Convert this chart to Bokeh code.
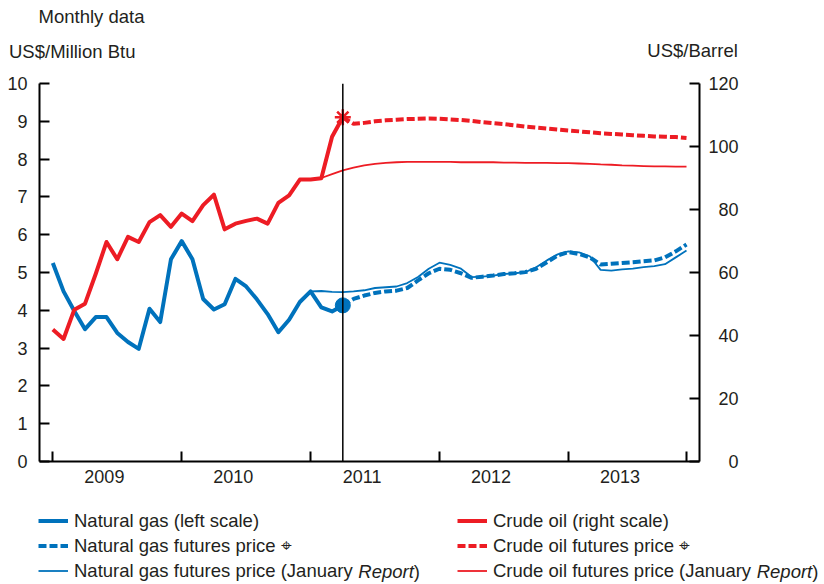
from bokeh.plotting import figure
from bokeh.models import (Range1d, LinearAxis, FixedTicker, Span, Legend,
                          LegendItem, Label, ColumnDataSource)
from bokeh.embed import file_html
from bokeh.resources import INLINE

# ---------------- data (monthly, index 0 = Jan 2009) ----------------
year_labels = ["2009", "2010", "2011", "2012", "2013"]
year_label_pos = [4.8, 16.8, 28.8, 40.8, 52.8]
year_tick_pos = [0, 12, 24, 36, 48, 59]
gas_ticks = [0, 1, 2, 3, 4, 5, 6, 7, 8, 9, 10]
oil_ticks = [0, 20, 40, 60, 80, 100, 120]

# Natural gas spot, US$/Million Btu (Jan 2009 - Apr 2011)
gas_actual = [5.25, 4.50, 3.98, 3.50, 3.82, 3.82, 3.40, 3.16, 2.98, 4.04,
              3.69, 5.35, 5.83, 5.35, 4.30, 4.02, 4.16, 4.83, 4.63, 4.29,
              3.90, 3.42, 3.75, 4.22, 4.50, 4.08, 3.97, 4.13]
# Crude oil spot, US$/Barrel (Jan 2009 - Apr 2011)
oil_actual = [41.9, 38.9, 48.2, 50.1, 59.6, 69.7, 64.2, 71.3, 69.7, 76.0,
              78.2, 74.5, 78.7, 76.3, 81.4, 84.7, 73.7, 75.5, 76.4, 77.1,
              75.5, 82.1, 84.5, 89.5, 89.5, 89.9, 103.1, 109.3]
# Futures (current), Apr 2011 - Dec 2013
gas_futures = [4.13, 4.30, 4.39, 4.46, 4.50, 4.52, 4.59, 4.79, 4.98, 5.10,
               5.07, 4.98, 4.86, 4.89, 4.92, 4.96, 4.98, 5.01, 5.10, 5.27,
               5.45, 5.54, 5.49, 5.40, 5.21, 5.23, 5.25, 5.27, 5.30, 5.32,
               5.40, 5.56, 5.74]
oil_futures = [109.3, 107.2, 107.5, 108.0, 108.3, 108.5, 108.7, 108.8, 108.9,
               108.8, 108.6, 108.4, 108.1, 107.7, 107.4, 107.1, 106.7, 106.3,
               106.0, 105.7, 105.4, 105.1, 104.8, 104.5, 104.2, 104.0, 103.8,
               103.6, 103.4, 103.2, 103.1, 103.0, 102.7]
# Futures (January Report), Jan 2011 - Dec 2013
gas_futures_jan = [4.50, 4.51, 4.49, 4.48, 4.50, 4.53, 4.59, 4.61, 4.63, 4.72,
                   4.88, 5.10, 5.26, 5.20, 5.10, 4.88, 4.89, 4.92, 4.96, 4.98,
                   5.01, 5.14, 5.32, 5.48, 5.56, 5.53, 5.43, 5.07, 5.05, 5.08,
                   5.10, 5.14, 5.17, 5.22, 5.40, 5.58]
oil_futures_jan = [89.5, 90.0, 91.2, 92.4, 93.3, 94.0, 94.5, 94.8, 95.0, 95.1,
                   95.1, 95.1, 95.1, 95.1, 95.0, 95.0, 95.0, 95.0, 94.9, 94.9,
                   94.8, 94.8, 94.8, 94.7, 94.7, 94.6, 94.5, 94.3, 94.2, 94.0,
                   93.9, 93.8, 93.7, 93.7, 93.6, 93.6]

SYM = "\u2316"
gas_labels = ["Natural gas (left scale)", "Natural gas futures price " + SYM,
              "Natural gas futures price (January"]
oil_labels = ["Crude oil (right scale)", "Crude oil futures price " + SYM,
              "Crude oil futures price (January"]

actual_start = 0
jan_start = 24
last_actual = actual_start + len(gas_actual) - 1

def idx(start, n):
    return list(range(start, start + n))

# ---------------- styles ----------------
FONT = "Liberation Sans"
TXT = "#231f20"
BLUE = "#0072bc"
RED = "#ed1c24"
TICK_FS = "18px"
LAB_FS = "18.5px"
W = 824
NBSP = "\u00a0"

def blank_fig(h):
    f = figure(width=W, height=h, output_backend="svg", toolbar_location=None,
               x_range=Range1d(0, W), y_range=Range1d(h, 0),
               x_axis_location=None, y_axis_location=None,
               min_border=0, min_border_left=0, min_border_right=0,
               min_border_top=0, min_border_bottom=0)
    f.outline_line_color = None
    f.xgrid.visible = False
    f.ygrid.visible = False
    return f

def label(fig, text, x, y, align="left", baseline="alphabetic", style="normal"):
    fig.add_layout(Label(text=text, x=x, y=y, text_align=align,
                         text_baseline=baseline, text_font=FONT,
                         text_font_size=LAB_FS, text_font_style=style,
                         text_color=TXT))

# ---------------- headings ----------------
TOP_H = 71
top = blank_fig(TOP_H)
label(top, "Monthly data", 38, 16, baseline="middle")
label(top, "US$/Million Btu", 8.5, 51, baseline="middle")
label(top, "US$/Barrel", 737.3, 50, align="right", baseline="middle")

# ---------------- main chart ----------------
p = figure(width=W, height=430, output_backend="svg", toolbar_location=None,
           x_range=Range1d(-1.24, 60.21), y_range=Range1d(0, 10),
           min_border_left=39, min_border_right=125, min_border_top=12,
           min_border_bottom=40)
p.outline_line_color = None
p.xgrid.visible = False
p.ygrid.visible = False
p.extra_y_ranges = {"oil": Range1d(0, 120)}

def style_axis(ax):
    ax.axis_line_width = 2
    ax.axis_line_color = "black"
    ax.major_tick_line_width = 2
    ax.major_tick_line_color = "black"
    ax.major_tick_in = 10
    ax.major_tick_out = 0
    ax.minor_tick_line_color = None
    ax.major_label_text_font = FONT
    ax.major_label_text_font_size = TICK_FS
    ax.major_label_text_color = TXT

yl = p.yaxis[0]
yl.ticker = FixedTicker(ticks=gas_ticks)
style_axis(yl)
yl.major_label_standoff = 12

yr = LinearAxis(y_range_name="oil", ticker=FixedTicker(ticks=oil_ticks))
style_axis(yr)
yr.major_label_standoff = 9
# right-align the right-hand tick labels (two no-break spaces = one digit)
widest = max(len(str(t)) for t in oil_ticks)
yr.major_label_overrides = {t: NBSP * (2 * (widest - len(str(t)))) + str(t)
                            for t in oil_ticks}
p.add_layout(yr, "right")

xa = p.xaxis[0]
style_axis(xa)
xa.ticker = FixedTicker(ticks=year_label_pos, minor_ticks=year_tick_pos)
xa.major_label_overrides = {pos: lab for pos, lab in zip(year_label_pos, year_labels)}
xa.major_tick_line_color = None
xa.minor_tick_line_color = "black"
xa.minor_tick_line_width = 2
xa.minor_tick_in = 10
xa.minor_tick_out = 0
xa.major_label_standoff = 8

p.add_layout(Span(location=last_actual, dimension="height", line_color="black",
                  line_width=1.5))

src_gas = ColumnDataSource(dict(x=idx(actual_start, len(gas_actual)), y=gas_actual))
src_oil = ColumnDataSource(dict(x=idx(actual_start, len(oil_actual)), y=oil_actual))
src_gas_f = ColumnDataSource(dict(x=idx(last_actual, len(gas_futures)), y=gas_futures))
src_oil_f = ColumnDataSource(dict(x=idx(last_actual, len(oil_futures)), y=oil_futures))
src_gas_j = ColumnDataSource(dict(x=idx(jan_start, len(gas_futures_jan)), y=gas_futures_jan))
src_oil_j = ColumnDataSource(dict(x=idx(jan_start, len(oil_futures_jan)), y=oil_futures_jan))

STY_ACT = dict(line_width=4, line_join="round")
STY_FUT = dict(line_width=4, line_dash="8 3")
STY_JAN = dict(line_width=1.8)

p.line("x", "y", source=src_gas_j, line_color=BLUE, **STY_JAN)
p.line("x", "y", source=src_oil_j, line_color=RED, y_range_name="oil", **STY_JAN)
p.line("x", "y", source=src_gas_f, line_color=BLUE, **STY_FUT)
p.line("x", "y", source=src_oil_f, line_color=RED, y_range_name="oil", **STY_FUT)
p.line("x", "y", source=src_gas, line_color=BLUE, **STY_ACT)
p.line("x", "y", source=src_oil, line_color=RED, y_range_name="oil", **STY_ACT)

p.scatter(x=[last_actual], y=[gas_actual[-1]], marker="circle", size=15,
          fill_color=BLUE, line_color=BLUE)
p.scatter(x=[last_actual], y=[oil_actual[-1]], marker="asterisk", size=16,
          line_color=RED, line_width=2.5, y_range_name="oil")

# ---------------- legend strip ----------------
LEG_H = 81
leg = blank_fig(LEG_H)
NAN = float("nan")

def make_legend(labels, color, x):
    # invisible proxies (NaN data) that carry the line styles for the legend
    rs = [leg.line(x=[NAN], y=[NAN], line_color=color, **s)
          for s in (STY_ACT, STY_FUT, STY_JAN)]
    lg = Legend(items=[LegendItem(label=l, renderers=[r]) for l, r in zip(labels, rs)],
                location=(x, 0.5), orientation="vertical", padding=0, margin=0,
                spacing=3, glyph_width=30, glyph_height=21, label_height=21,
                label_standoff=6, border_line_color=None, background_fill_alpha=0,
                label_text_font=FONT, label_text_font_size=LAB_FS,
                label_text_color=TXT)
    leg.add_layout(lg)

make_legend(gas_labels, BLUE, 38)
make_legend(oil_labels, RED, 457)

ROW3 = 70
label(leg, "Report", 357.8, ROW3, baseline="middle", style="italic")
label(leg, ")", 413.3, ROW3, baseline="middle")
label(leg, "Report", 756.2, ROW3, baseline="middle", style="italic")
label(leg, ")", 811.7, ROW3, baseline="middle")

open("out.html", "w").write(file_html([top, p, leg], INLINE))
